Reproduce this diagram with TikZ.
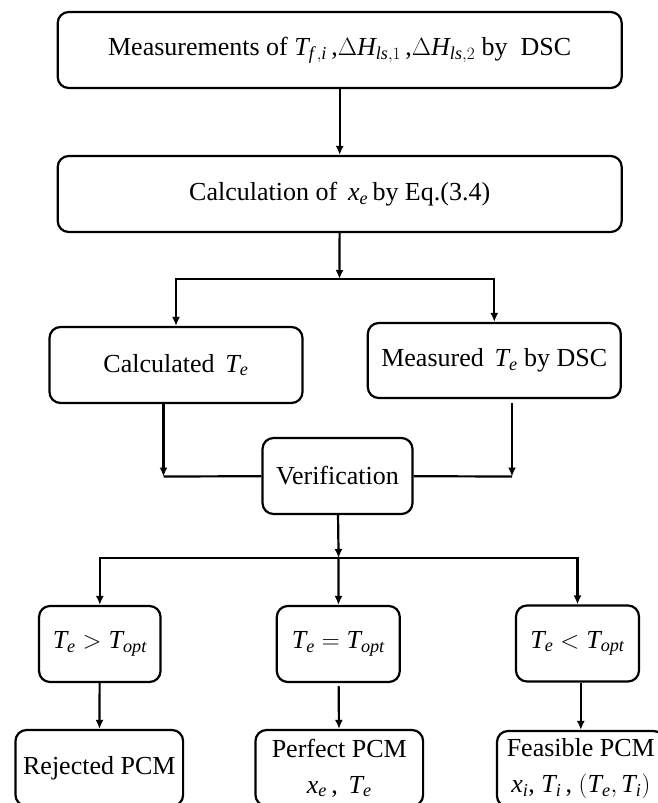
\documentclass[tikz,border=0pt]{standalone}
\usepackage{fontspec}
\setmainfont{Liberation Serif}
\usetikzlibrary{arrows.meta}

\begin{document}
\begin{tikzpicture}[x=1pt, y=-1pt, line width=2.2pt,
  box/.style={rectangle, rounded corners=11pt, draw=black, line width=2.2pt, minimum width=#1, minimum height=76pt, inner sep=1pt, align=center, font=\fontsize{26}{30}\selectfont},
  box/.default=123pt,
  arr/.style={-{Latex[length=9pt,width=8pt]}}]

\useasboundingbox (0,0) rectangle (658,803);
\clip (0,0) rectangle (658,803);

\node [box=564pt] (meas) at (339.7,50) {Measurements of $\mathit{T}_{\mathit{f\,,i}}$\,,$\Delta\mathit{H}_{\mathit{ls},1}$\,,$\Delta\mathit{H}_{\mathit{ls},2}$ by\ \ DSC};
\node [box=564pt] (calc) at (339.7,194) {Calculation of \,$\mathit{x}_{\mathit{e}}$\,by Eq.(3.4)};
\node [box=253pt] (calcTe) at (176,365) {Calculated \,$\mathit{T}_{\mathit{e}}$};
\node [box=253pt, minimum height=75pt] (measTe) at (494.3,360.5) {Measured \,$\mathit{T}_{\mathit{e}}$ by DSC};
\node [box=150pt] (verif) at (337.5,476) {Verification};
\node [box=121.5pt] (gt) at (99.8,644) {$\mathit{T_e > T_{opt}}$};
\node [box] (eq) at (338.3,644) {$\mathit{T_e = T_{opt}}$};
\node [box] (lt) at (577.5,643.5) {$\mathit{T_e < T_{opt}}$};
\node [box=167.6pt] (rej) at (99.3,768) {Rejected PCM};
\node [box=167.6pt] (perf) at (339.3,768) {Perfect PCM\\[6pt]$\mathit{x}_{\mathit{e}}$\,,\ \,$\mathit{T}_{\mathit{e}}$};
\node [box=167.6pt] (feas) at (580.8,769) {Feasible PCM\\[6pt]$\mathit{x}_{\mathit{i}}$, $\mathit{T}_{\mathit{i}}$\,, $(\mathit{T}_{\mathit{e}},\mathit{T}_{\mathit{i}})$};

\coordinate (split1) at (339.5,279);
\coordinate (mergeL) at (163.5,476.5);
\coordinate (mergeR) at (512,476.5);
\coordinate (split2) at (338.6,558);

\draw [arr] (meas) -- (calc);
\draw [arr] (calc) -- (split1);
\draw [arr] (split1) -| (calcTe);
\draw [arr] (split1) -| (measTe);
\draw [arr] (calcTe.south -| mergeL) -- (mergeL);
\draw [arr, shorten <=4pt] (measTe.south -| mergeR) -- (mergeR);
\draw (mergeL) -- (verif);
\draw (verif) -- (mergeR);
\draw [arr] (verif) -- (split2);
\draw [arr] (split2) -| (gt);
\draw [arr] (split2) -- (eq);
\draw [arr] (split2) -| (lt);
\draw [arr] (gt) -- (rej);
\draw [arr, shorten <=3pt] (eq) -- (perf);
\draw [arr] (lt.south -| feas) -- (feas);

\end{tikzpicture}
\end{document}
